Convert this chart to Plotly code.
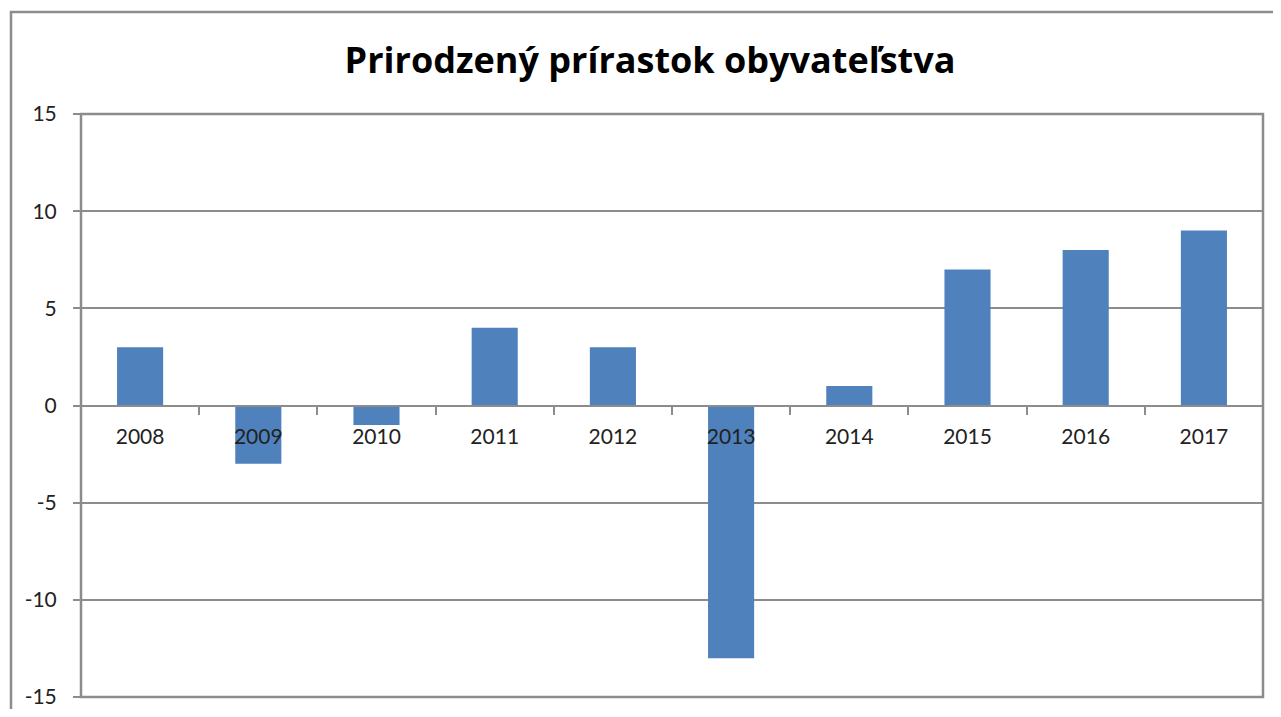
import plotly.graph_objects as go

years = ["2008", "2009", "2010", "2011", "2012", "2013", "2014", "2015", "2016", "2017"]
values = [3, -3, -1, 4, 3, -13, 1, 7, 8, 9]
title_text = "Prirodzený prírastok obyvateľstva"
y_ticks = [-15, -10, -5, 0, 5, 10, 15]

# page has an 8px body margin, so figure coordinates = page coordinates - 8;
# keep the figure inside the 1281x717 window to avoid scrollbars
OFF = 8
W, H = 1281 - 2 * OFF, 717 - 2 * OFF
L, T = 81 - OFF, 114 - OFF
R = W - (1263 - OFF)
B = H - (697 - OFF)
pw, ph = W - L - R, H - T - B

def px_x(p):
    return (p - OFF - L) / pw

def px_y(p):
    return (H - B - (p - OFF)) / ph

fig = go.Figure()
fig.add_trace(go.Bar(x=years, y=values, marker=dict(color="#4F81BD", line=dict(width=0)),
                     width=0.39))

fig.update_layout(
    width=W, height=H,
    margin=dict(l=L, r=R, t=T, b=B),
    paper_bgcolor="white", plot_bgcolor="white",
    showlegend=False,
    title=dict(text=title_text, x=(650 - OFF) / W, xanchor="center",
               y=1 - (60 - OFF) / H, yanchor="middle",
               font=dict(family="Open Sans", size=36, color="#000000", weight="bold")),
    font=dict(family="Lato", color="#222222"),
)
fig.update_xaxes(
    type="category", anchor="free", position=0.5, automargin=False,
    showline=True, linecolor="#8c8c8c", linewidth=2,
    ticks="outside", tickson="boundaries", ticklen=8, tickwidth=1.5, tickcolor="#8c8c8c",
    tickfont=dict(size=21, color="#222222"), ticklabelstandoff=12,
    showgrid=False, zeroline=False,
)
fig.update_yaxes(
    range=[-15, 15], tickvals=y_ticks, ticktext=[str(v) for v in y_ticks],
    showline=False, automargin=False,
    ticks="outside", ticklen=7, tickwidth=2, tickcolor="#8c8c8c",
    tickfont=dict(size=21, color="#222222"), ticklabelstandoff=12,
    showgrid=True, gridcolor="#8c8c8c", gridwidth=1.5, zeroline=False,
)
# plot area border
fig.add_shape(type="rect", xref="paper", yref="paper", x0=0, y0=0, x1=1, y1=1,
              line=dict(color="#8c8c8c", width=2.5), layer="above")
# outer chart border (right and bottom sides fall outside the visible area)
fig.add_shape(type="rect", xref="paper", yref="paper",
              x0=px_x(11), y0=px_y(730), x1=px_x(1295), y1=px_y(12),
              line=dict(color="#8c8c8c", width=2.5), layer="above")

fig.write_html("out.html")
